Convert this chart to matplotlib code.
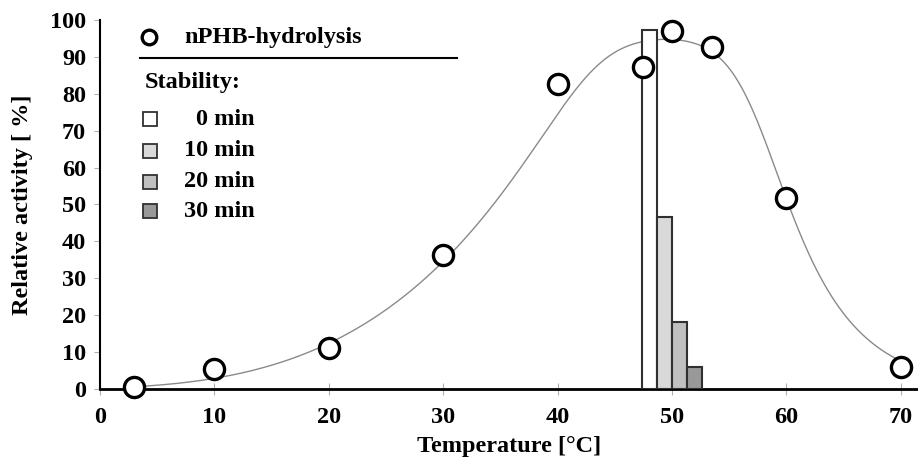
import numpy as np
import matplotlib
matplotlib.use("Agg")
import matplotlib.pyplot as plt

# nPHB hydrolysis activity vs temperature (circles)
temps = [3, 10, 20, 30, 40, 47.5, 50, 53.5, 60, 70]
activity = [0.6, 5.3, 11.0, 36.3, 82.6, 87.3, 97.1, 92.8, 51.8, 6.0]

# trend line of the original figure
trend_x = [4.1, 11.4, 16.4, 21.9, 25.1, 30.3, 37.7, 41.2, 44.1, 47.2,
           48.8, 51.8, 53.8, 57.0, 60.0, 62.0, 63.4, 66.1, 69.2]
trend_y = [1.1, 4.7, 8.8, 16.4, 21.4, 34.1, 62.0, 78.9, 89.7, 93.5,
           94.6, 94.1, 91.4, 78.3, 52.0, 37.0, 26.0, 15.2, 8.4]

# stability at 50 °C after incubation
stab_temp = 50
stab_labels = ["0 min", "10 min", "20 min", "30 min"]
stab_values = [97.3, 46.7, 18.2, 5.9]
stab_colors = ["#ffffff", "#d9d9d9", "#c0c0c0", "#999999"]

FONT = {"family": "Liberation Serif", "weight": "bold", "size": 17.5}


def sig(z):
    return 1 / (1 + np.exp(-z))


def trend_curve(xs):
    # log-slope model: power-law rise, switched off near the optimum,
    # plus a thermal inactivation term above it
    slope = 3.54 / (xs + 9.7) * sig(-(xs - 43.4) / 2.1) - 0.2 * sig((xs - 57.3) / 1.9)
    lnf = np.concatenate([[0], np.cumsum(0.5 * (slope[1:] + slope[:-1]) * np.diff(xs))])
    shape = np.exp(lnf - lnf.max())
    # amplitude fitted (least squares) to the read trend values
    m = np.interp(trend_x, xs, shape)
    amp = np.sum(np.array(trend_y) * m) / np.sum(m * m)
    return amp * shape


fig = plt.figure(figsize=(9.18, 4.59), dpi=100)
ax = fig.add_axes([100 / 918, 70 / 459, 818 / 918, 369 / 459])

xs = np.linspace(3, 70, 600)
ax.plot(xs, trend_curve(xs), color="#8a8a8a", lw=1.0, zorder=2)

# stability bars
bw = 1.3
for i, (val, col) in enumerate(zip(stab_values, stab_colors)):
    ax.bar(stab_temp + (i - 1.5) * bw, val, width=bw, color=col,
           edgecolor="#303030", linewidth=1.5, zorder=3)

ax.plot(temps, activity, "o", ms=14.5, mfc="white", mec="black", mew=2.4,
        zorder=5, clip_on=False)

ax.set_xlim(0, 71.5)
ax.set_ylim(0, 100)
ax.set_xticks(np.arange(0, 80, 10))
ax.set_yticks(np.arange(0, 110, 10))
for s in ["top", "right"]:
    ax.spines[s].set_visible(False)
ax.spines["left"].set_linewidth(1.5)
ax.spines["bottom"].set_linewidth(2.0)
ax.tick_params(axis="x", direction="inout", length=8, width=0.8, color="#b0b0b0", pad=9)
ax.tick_params(axis="y", direction="out", length=4, width=0.8, color="#b0b0b0", pad=6)
for lab in ax.get_xticklabels() + ax.get_yticklabels():
    lab.set_fontproperties(FONT)
    lab.set_fontsize(FONT["size"])

ax.set_xlabel("Temperature [°C]", fontdict=FONT, labelpad=6)
ax.set_ylabel("Relative activity [ %]", fontdict=FONT, labelpad=12)

# hand-made legend
T = ax.transAxes
ax.plot([0.0605], [0.955], "o", ms=10.5, mfc="white", mec="black", mew=2.4,
        transform=T, clip_on=False)
ax.text(0.1027, 0.952, "nPHB-hydrolysis", fontdict=FONT, va="center", transform=T)
ax.plot([0.0489, 0.4364], [0.897, 0.897], color="black", lw=1.5, transform=T)
ax.text(0.055, 0.830, "Stability:", fontdict=FONT, va="center", transform=T)
rows = [0.7317, 0.645, 0.561, 0.482]
for y, lab, col in zip(rows, stab_labels, stab_colors):
    ax.plot([0.061], [y], "s", ms=9.5, mfc=col, mec="#303030", mew=1.3, transform=T)
    ax.text(0.1895, y, lab, fontdict=FONT, va="center", ha="right", transform=T)

fig.savefig("out.png", dpi=100)
plt.close(fig)
